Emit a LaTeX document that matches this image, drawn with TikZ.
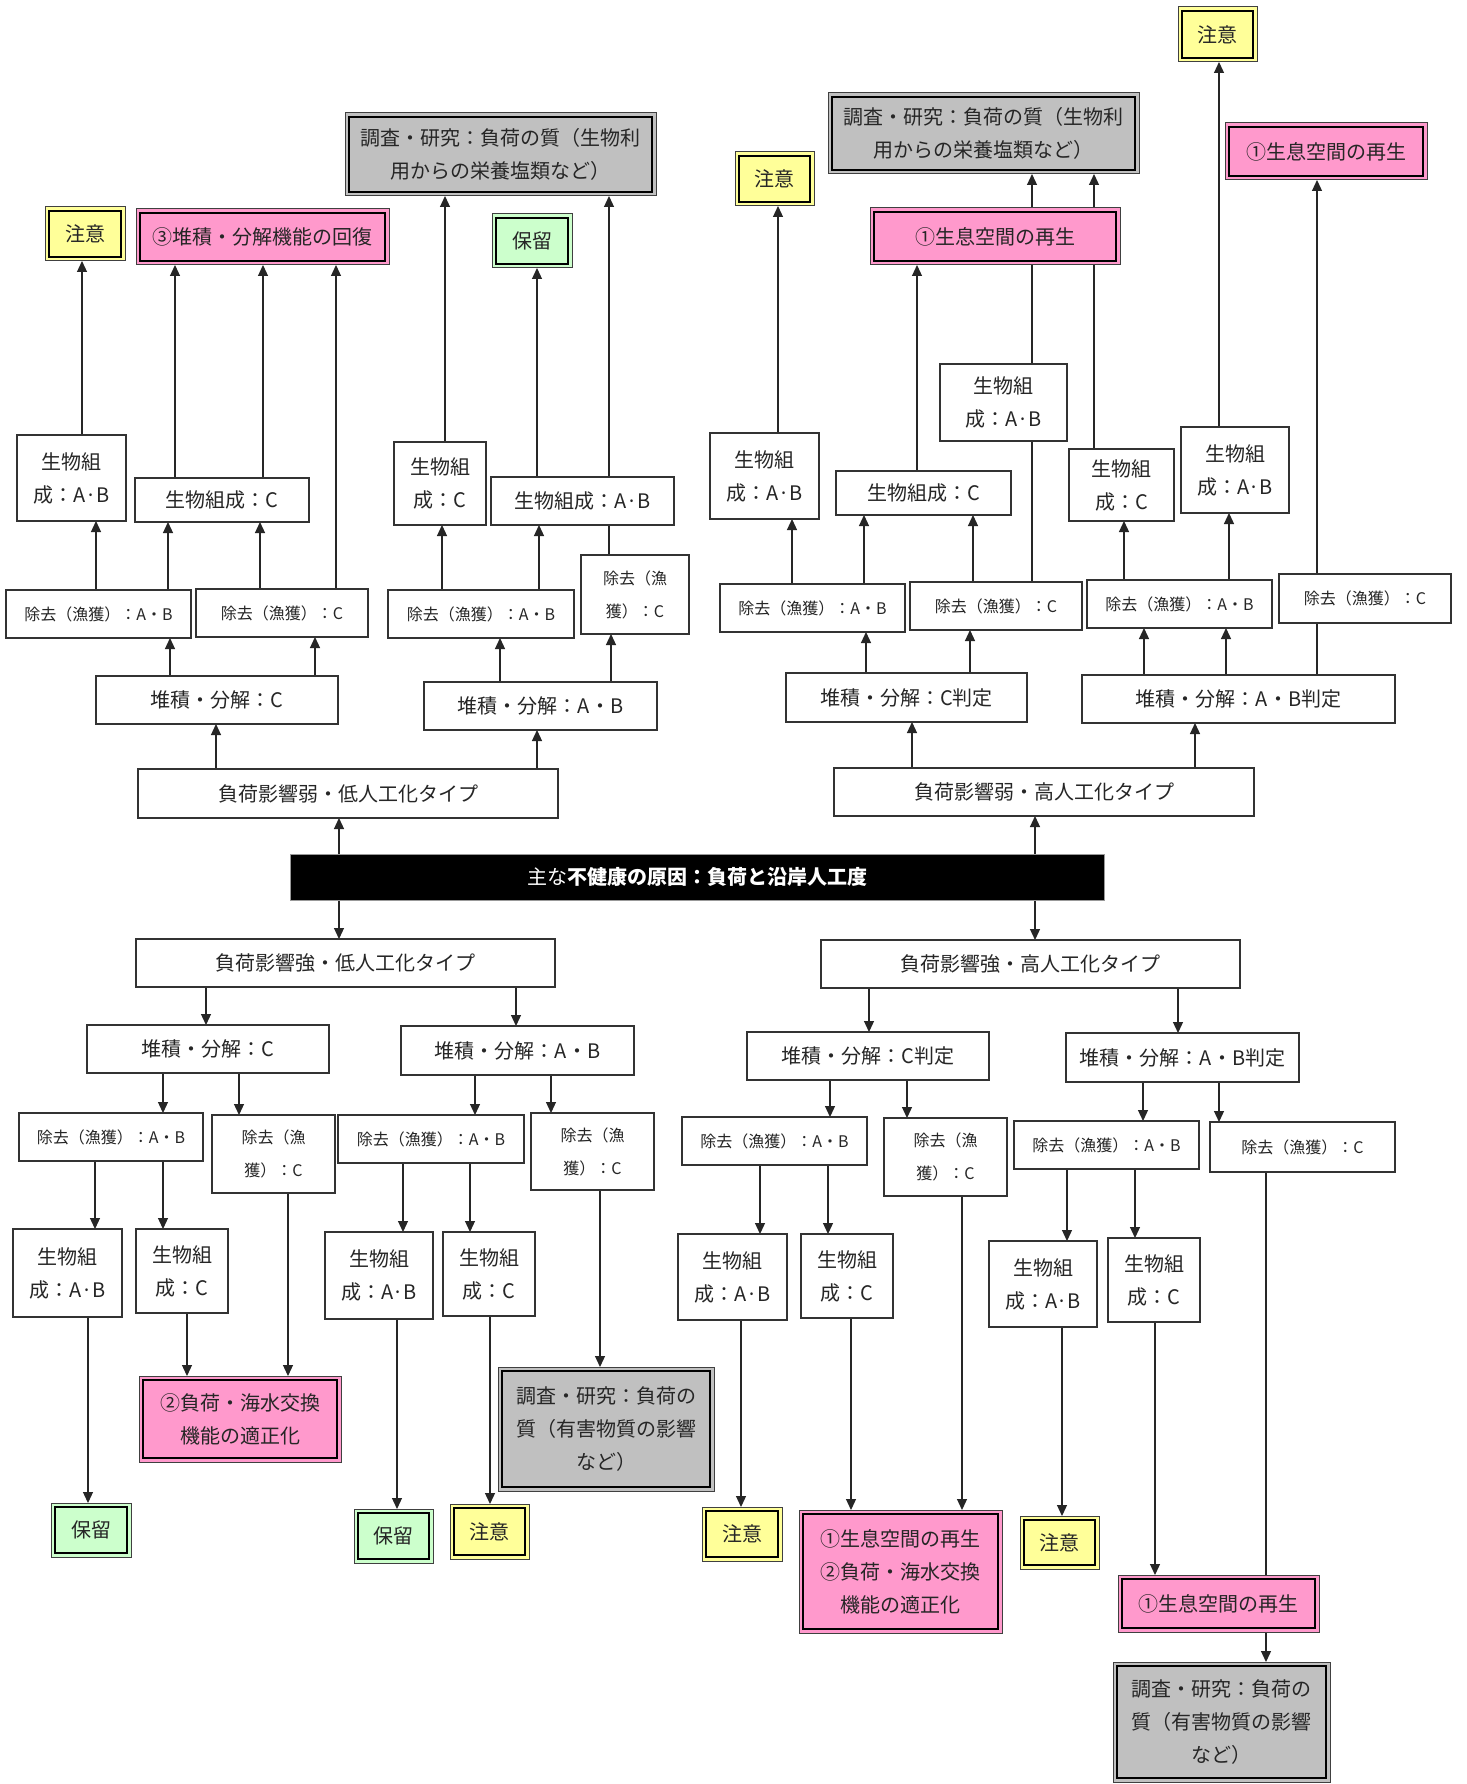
\documentclass[tikz,border=0pt]{standalone}
\usepackage{fontspec}
\setmainfont{Noto Sans CJK JP}
\usetikzlibrary{arrows.meta}
\pgfdeclarelayer{background}
\pgfsetlayers{background,main}
\definecolor{cy}{HTML}{FFFF99}
\definecolor{cp}{HTML}{FF99CC}
\definecolor{cg}{HTML}{CCFFCC}
\definecolor{cgr}{HTML}{C0C0C0}
\newcommand\mkbox[7]{\node[#6, minimum width={#4-#2}, minimum height={#5-#3}] (#1) at ({(#2+#4)/2},{(#3+#5)/2}) {#7};}
\newcommand\mkcbox[7]{\mkbox{#1}{#2}{#3}{#4}{#5}{cbox,fill=#6}{#7}
  \draw[innerln] ([xshift=4pt,yshift=-4pt]#1.north west) rectangle ([xshift=-4pt,yshift=4pt]#1.south east);}
\newcommand\arrup[3]{\draw[arr] (#1,0 |- #2.north) -- (#1,0 |- #3.south);}
\newcommand\arrdn[3]{\draw[arr] (#1,0 |- #2.south) -- (#1,0 |- #3.north);}
\newcommand\lnup[3]{\draw[ln] (#1,0 |- #2.north) -- (#1,0 |- #3.south);}
\begin{document}
\begin{tikzpicture}[x=1pt,y=-1pt,
  plain/.style={draw=black!80, line width=1.2pt, fill=white, inner sep=0pt, outer sep=0pt, align=center, text=black!85, font=\fontsize{20}{33}\selectfont},
  small/.style={plain, font=\fontsize{16}{33}\selectfont},
  cbox/.style={plain, draw=black!75, line width=1pt},
  innerln/.style={line width=2pt, black},
  arr/.style={line width=1.2pt, black!85, -{Triangle[length=11pt,width=10pt]}},
  ln/.style={line width=1.2pt, black!85}]
\useasboundingbox (0,0) rectangle (1466,1784);

% ---------- top colored boxes
\mkcbox{cL}{45}{207}{125}{261}{cy}{注意}
\mkcbox{rThree}{136}{209}{389}{265}{cp}{③堆積・分解機能の回復}
\mkcbox{gL}{345}{113}{656}{196}{cgr}{調査・研究：負荷の質（生物利\\用からの栄養塩類など）}
\mkcbox{hT}{492}{214}{572}{268}{cg}{保留}
\mkcbox{cM}{735}{152}{814}{206}{cy}{注意}
\mkcbox{rOneM}{870}{208}{1120}{265}{cp}{①生息空間の再生}
\mkcbox{gR}{828}{93}{1139}{174}{cgr}{調査・研究：負荷の質（生物利\\用からの栄養塩類など）}
\mkcbox{cR}{1178}{7}{1257}{62}{cy}{注意}
\mkcbox{rOneR}{1225}{123}{1427}{180}{cp}{①生息空間の再生}

% ---------- top plain boxes
\mkbox{a1}{17}{435}{126}{521}{plain}{生物組\\成：A·B}
\mkbox{a2}{135}{478}{309}{522}{plain}{生物組成：C}
\mkbox{a3}{6}{590}{191}{638}{small}{除去（漁獲）：A・B}
\mkbox{a4}{196}{589}{368}{637}{small}{除去（漁獲）：C}
\mkbox{a5}{96}{676}{338}{724}{plain}{堆積・分解：C}
\mkbox{b1}{394}{442}{486}{525}{plain}{生物組\\成：C}
\mkbox{b2}{491}{477}{674}{525}{plain}{生物組成：A·B}
\mkbox{b3}{388}{590}{574}{638}{small}{除去（漁獲）：A・B}
\mkbox{b4}{581}{555}{689}{634}{small}{除去（漁\\獲）：C}
\mkbox{b5}{424}{682}{657}{730}{plain}{堆積・分解：A・B}
\mkbox{L1}{138}{769}{558}{818}{plain}{負荷影響弱・低人工化タイプ}
\mkbox{c0}{940}{364}{1067}{441}{plain}{生物組\\成：A·B}
\mkbox{c1}{710}{433}{819}{519}{plain}{生物組\\成：A·B}
\mkbox{c2}{836}{471}{1011}{515}{plain}{生物組成：C}
\mkbox{c3}{720}{584}{905}{632}{small}{除去（漁獲）：A・B}
\mkbox{c4}{910}{582}{1082}{630}{small}{除去（漁獲）：C}
\mkbox{c5}{786}{673}{1027}{722}{plain}{堆積・分解：C判定}
\mkbox{d1}{1069}{449}{1174}{521}{plain}{生物組\\成：C}
\mkbox{d2}{1181}{427}{1289}{513}{plain}{生物組\\成：A·B}
\mkbox{d3}{1087}{580}{1272}{628}{small}{除去（漁獲）：A・B}
\mkbox{d4}{1279}{574}{1451}{623}{small}{除去（漁獲）：C}
\mkbox{d5}{1082}{675}{1395}{723}{plain}{堆積・分解：A・B判定}
\mkbox{L2}{834}{768}{1254}{816}{plain}{負荷影響弱・高人工化タイプ}

% ---------- central bar
\node[draw=black!40, line width=1pt, fill=black, text=white, inner sep=0pt, outer sep=0pt,
  minimum width=814, minimum height=46, font=\fontsize{20}{24}\selectfont] (K) at (697,877)
  {主な{\bfseries 不健康の原因：負荷と沿岸人工度}};

% ---------- bottom plain boxes
\mkbox{L3}{136}{939}{555}{987}{plain}{負荷影響強・低人工化タイプ}
\mkbox{e5}{87}{1025}{329}{1073}{plain}{堆積・分解：C}
\mkbox{f5}{401}{1026}{634}{1075}{plain}{堆積・分解：A・B}
\mkbox{e3}{19}{1113}{203}{1161}{small}{除去（漁獲）：A・B}
\mkbox{e4}{212}{1115}{335}{1193}{small}{除去（漁\\獲）：C}
\mkbox{f3}{338}{1115}{524}{1163}{small}{除去（漁獲）：A・B}
\mkbox{f4}{531}{1113}{654}{1190}{small}{除去（漁\\獲）：C}
\mkbox{e1}{13}{1229}{122}{1317}{plain}{生物組\\成：A·B}
\mkbox{e2}{136}{1229}{228}{1313}{plain}{生物組\\成：C}
\mkbox{f1}{325}{1232}{433}{1319}{plain}{生物組\\成：A·B}
\mkbox{f2}{443}{1232}{535}{1316}{plain}{生物組\\成：C}
\mkbox{L4}{821}{940}{1240}{988}{plain}{負荷影響強・高人工化タイプ}
\mkbox{g5}{747}{1032}{989}{1080}{plain}{堆積・分解：C判定}
\mkbox{h5}{1066}{1033}{1299}{1082}{plain}{堆積・分解：A・B判定}
\mkbox{g3}{682}{1117}{867}{1165}{small}{除去（漁獲）：A・B}
\mkbox{g4}{884}{1118}{1007}{1196}{small}{除去（漁\\獲）：C}
\mkbox{h3}{1014}{1121}{1199}{1169}{small}{除去（漁獲）：A・B}
\mkbox{h4}{1210}{1122}{1395}{1172}{small}{除去（漁獲）：C}
\mkbox{g1}{678}{1234}{787}{1320}{plain}{生物組\\成：A·B}
\mkbox{g2}{801}{1234}{893}{1318}{plain}{生物組\\成：C}
\mkbox{h1}{989}{1241}{1097}{1327}{plain}{生物組\\成：A·B}
\mkbox{h2}{1108}{1238}{1200}{1322}{plain}{生物組\\成：C}

% ---------- bottom colored boxes
\mkcbox{rTwo}{139}{1376}{341}{1462}{cp}{②負荷・海水交換\\機能の適正化}
\mkcbox{hLa}{51}{1503}{131}{1557}{cg}{保留}
\mkcbox{hLb}{354}{1509}{433}{1563}{cg}{保留}
\mkcbox{cLb}{450}{1504}{529}{1559}{cy}{注意}
\mkcbox{gBL}{498}{1367}{714}{1491}{cgr}{調査・研究：負荷の\\質（有害物質の影響\\など）}
\mkcbox{cRa}{702}{1507}{782}{1561}{cy}{注意}
\mkcbox{rOneTwo}{799}{1510}{1002}{1633}{cp}{①生息空間の再生\\②負荷・海水交換\\機能の適正化}
\mkcbox{cRb}{1020}{1516}{1099}{1569}{cy}{注意}
\mkcbox{rOneB}{1118}{1575}{1319}{1632}{cp}{①生息空間の再生}
\mkcbox{gBR}{1113}{1662}{1330}{1782}{cgr}{調査・研究：負荷の\\質（有害物質の影響\\など）}

% ---------- connectors (behind the boxes)
\begin{pgfonlayer}{background}
\fill[white] (0,0) rectangle (1466,1784);
% top half, left
\arrup{339}{K}{L1}
\arrup{216}{L1}{a5}
\arrup{537}{L1}{b5}
\arrup{170}{a5}{a3}
\arrup{315}{a5}{a4}
\arrup{96}{a3}{a1}
\arrup{168}{a3}{a2}
\arrup{260}{a4}{a2}
\arrup{336}{a4}{rThree}
\arrup{82}{a1}{cL}
\arrup{175}{a2}{rThree}
\arrup{263}{a2}{rThree}
\arrup{500}{b5}{b3}
\arrup{611}{b5}{b4}
\arrup{442}{b3}{b1}
\arrup{539}{b3}{b2}
\arrup{445}{b1}{gL}
\arrup{537}{b2}{hT}
\arrup{609}{b4}{gL}
% top half, right
\arrup{1035}{K}{L2}
\arrup{912}{L2}{c5}
\arrup{1195}{L2}{d5}
\arrup{866}{c5}{c3}
\arrup{970}{c5}{c4}
\arrup{792}{c3}{c1}
\arrup{864}{c3}{c2}
\arrup{973}{c4}{c2}
\arrup{1032}{c4}{gR}
\arrup{778}{c1}{cM}
\arrup{917}{c2}{rOneM}
\arrup{1094}{d1}{gR}
\arrup{1144}{d5}{d3}
\arrup{1226}{d5}{d3}
\arrup{1124}{d3}{d1}
\arrup{1229}{d3}{d2}
\arrup{1219}{d2}{cR}
\arrup{1317}{d4}{rOneR}
\lnup{1317}{d5}{d4}
% bottom half, left
\arrdn{339}{K}{L3}
\arrdn{206}{L3}{e5}
\arrdn{516}{L3}{f5}
\arrdn{163}{e5}{e3}
\arrdn{239}{e5}{e4}
\arrdn{475}{f5}{f3}
\arrdn{551}{f5}{f4}
\arrdn{95}{e3}{e1}
\arrdn{163}{e3}{e2}
\arrdn{403}{f3}{f1}
\arrdn{470}{f3}{f2}
\arrdn{88}{e1}{hLa}
\arrdn{187}{e2}{rTwo}
\arrdn{288}{e4}{rTwo}
\arrdn{397}{f1}{hLb}
\arrdn{490}{f2}{cLb}
\arrdn{600}{f4}{gBL}
% bottom half, right
\arrdn{1035}{K}{L4}
\arrdn{869}{L4}{g5}
\arrdn{1178}{L4}{h5}
\arrdn{830}{g5}{g3}
\arrdn{907}{g5}{g4}
\arrdn{1143}{h5}{h3}
\arrdn{1219}{h5}{h4}
\arrdn{760}{g3}{g1}
\arrdn{828}{g3}{g2}
\arrdn{1067}{h3}{h1}
\arrdn{1135}{h3}{h2}
\arrdn{741}{g1}{cRa}
\arrdn{851}{g2}{rOneTwo}
\arrdn{962}{g4}{rOneTwo}
\arrdn{1062}{h1}{cRb}
\arrdn{1155}{h2}{rOneB}
\arrdn{1266}{h4}{gBR}
\end{pgfonlayer}
\end{tikzpicture}
\end{document}
